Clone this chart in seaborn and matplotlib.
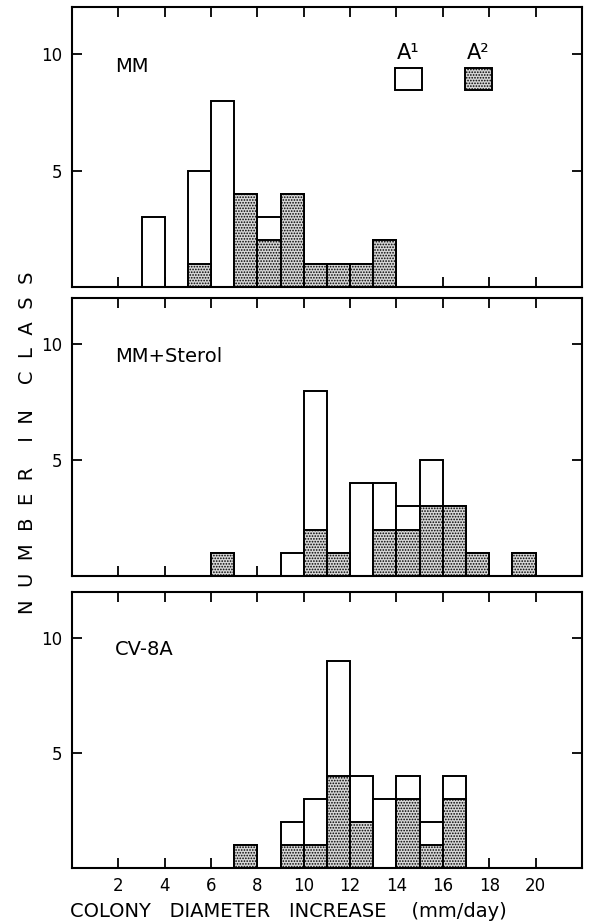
import numpy as np
import pandas as pd
import matplotlib
matplotlib.use("Agg")
import matplotlib.pyplot as plt
import seaborn as sns
from matplotlib.patches import Rectangle

# === Data: counts per 1 mm/day class (left edge of class) ===
mm_bins = [3, 5, 6, 7, 8, 9, 10, 11, 12, 13]
mm_a1 = [3, 4, 8, 0, 1, 0, 0, 0, 0, 0]
mm_a2 = [0, 1, 0, 4, 2, 4, 1, 1, 1, 2]

st_bins = [6, 9, 10, 11, 12, 13, 14, 15, 16, 17, 19]
st_a1 = [0, 1, 6, 0, 4, 2, 1, 2, 0, 0, 0]
st_a2 = [1, 0, 2, 1, 0, 2, 2, 3, 3, 1, 1]

cv_bins = [7, 9, 10, 11, 12, 13, 14, 15, 16]
cv_a1 = [0, 1, 2, 5, 2, 3, 1, 1, 1]
cv_a2 = [1, 1, 1, 4, 2, 0, 3, 1, 3]

panel_names = ["MM", "MM+Sterol", "CV-8A"]
x_ticks = [2, 4, 6, 8, 10, 12, 14, 16, 18, 20]
y_ticks = [5, 10]

# === Style ===
sns.set_theme(style="ticks")
plt.rcParams["font.family"] = ["DejaVu Sans"]
plt.rcParams["text.color"] = "black"
plt.rcParams["hatch.color"] = "#333333"
plt.rcParams["hatch.linewidth"] = 0.8

fig = plt.figure(figsize=(5.95, 9.23), dpi=100)
positions = [
    [0.121, 0.689, 0.857, 0.303],
    [0.121, 0.376, 0.857, 0.301],
    [0.121, 0.060, 0.857, 0.299],
]
panels = [(mm_bins, mm_a1, mm_a2), (st_bins, st_a1, st_a2), (cv_bins, cv_a1, cv_a2)]
edges = list(range(0, 23))
shade_fc = "#d6d6d6"
shade_hatch = "......"

for i, (pos, (bins, a1, a2), name) in enumerate(zip(positions, panels, panel_names)):
    ax = fig.add_axes(pos)
    df = pd.DataFrame({"center": np.array(bins) + 0.5, "a1": a1, "a2": a2})
    df["total"] = df["a1"] + df["a2"]

    # total bar (white), then A2 part drawn over it from the bottom
    sns.histplot(data=df, x="center", weights="total", bins=edges, ax=ax,
                 color="white", edgecolor="black", linewidth=1.4, alpha=1)
    sns.histplot(data=df, x="center", weights="a2", bins=edges, ax=ax,
                 color=shade_fc, edgecolor="black", hatch=shade_hatch,
                 linewidth=1.4, alpha=1)
    for p in list(ax.patches):
        if p.get_height() == 0:
            p.remove()

    ax.set_xlim(0, 22)
    ax.set_ylim(0, 12)
    ax.set_axisbelow(True)
    ax.set_xticks(x_ticks)
    ax.set_yticks(y_ticks)
    ax.tick_params(direction="in", length=7, width=1.3, top=True, right=True,
                   labelsize=12, pad=7, colors="black")
    if i < 2:
        ax.tick_params(labelbottom=False)
    for s in ax.spines.values():
        s.set_linewidth(1.5)
        s.set_color("black")
    ax.set_xlabel("")
    ax.set_ylabel("")
    ax.text(0.084, 0.79, name, transform=ax.transAxes, fontsize=14,
            va="center", ha="left")

    if i == 0:
        # legend: labels above boxes
        ax.add_patch(Rectangle((0.633, 0.704), 0.053, 0.079, transform=ax.transAxes,
                               facecolor="white", edgecolor="black", linewidth=1.4))
        ax.add_patch(Rectangle((0.771, 0.704), 0.053, 0.079, transform=ax.transAxes,
                               facecolor=shade_fc, edgecolor="black", hatch=shade_hatch,
                               linewidth=1.4))
        ax.text(0.6595, 0.80, "A¹", transform=ax.transAxes, fontsize=15,
                ha="center", va="bottom")
        ax.text(0.7975, 0.80, "A²", transform=ax.transAxes, fontsize=15,
                ha="center", va="bottom")

fig.text(0.485, 0.013, "COLONY   DIAMETER   INCREASE    (mm/day)",
         ha="center", va="center", fontsize=14)
fig.text(0.047, 0.52, "N  U  M  B  E  R    I  N    C  L  A  S  S", rotation=90,
         ha="center", va="center", fontsize=14)

plt.savefig("out.png", dpi=100)
